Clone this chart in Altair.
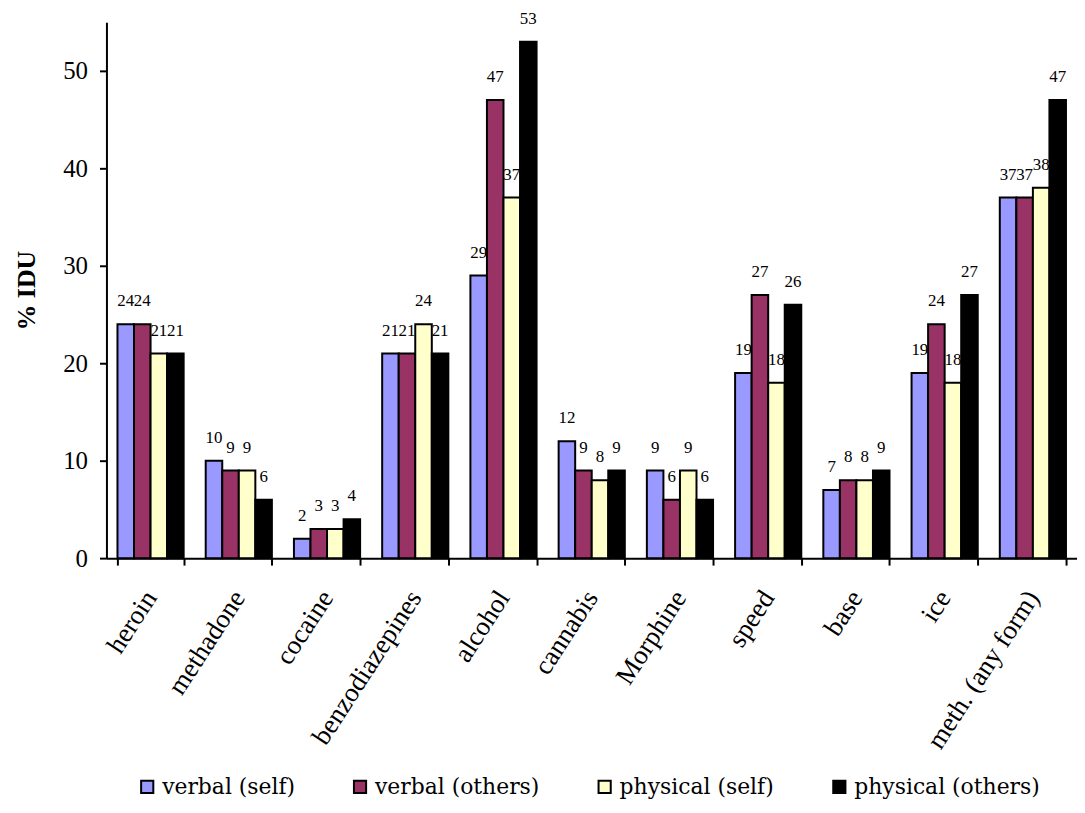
import altair as alt
import pandas as pd

categories = ["heroin", "methadone", "cocaine", "benzodiazepines", "alcohol",
              "cannabis", "Morphine", "speed", "base", "ice", "meth. (any form)"]
series = ["verbal (self)", "verbal (others)", "physical (self)", "physical (others)"]
verbal_self = [24, 10, 2, 21, 29, 12, 9, 19, 7, 19, 37]
verbal_others = [24, 9, 3, 21, 47, 9, 6, 27, 8, 24, 37]
physical_self = [21, 9, 3, 24, 37, 8, 9, 18, 8, 18, 38]
physical_others = [21, 6, 4, 21, 53, 9, 6, 26, 9, 27, 47]
colors = ["#9999FF", "#993366", "#FFFFCC", "#000000"]
y_ticks = [0, 10, 20, 30, 40, 50]

rows = []
for s, vals in zip(series, [verbal_self, verbal_others, physical_self, physical_others]):
    for c, v in zip(categories, vals):
        rows.append({"drug": c, "group": s, "pct": v})
df = pd.DataFrame(rows)

FONT = "Liberation Serif"

x_enc = alt.X(
    "drug:N", sort=categories,
    scale=alt.Scale(domain=categories, paddingInner=0.25, paddingOuter=0.125),
    axis=alt.Axis(title=None, labelAngle=-57, labelAlign="right", labelBaseline="middle",
                  labelFontSize=27, labelPadding=28, tickBand="extent", tickSize=7,
                  labelFont=FONT, labelColor="black", labelLimit=400),
)
xo_enc = alt.XOffset("group:N", scale=alt.Scale(domain=series))
y_enc = alt.Y(
    "pct:Q",
    scale=alt.Scale(domain=[0, 55], nice=False),
    axis=alt.Axis(title="% IDU", values=y_ticks, grid=False, labelFontSize=25,
                  labelPadding=12, tickSize=7, titleFontSize=26, titleFontWeight="bold",
                  titleX=-80, titleBaseline="middle", labelFont=FONT, titleFont=FONT,
                  labelColor="black", titleColor="black"),
)
legend = alt.Legend(title=None, orient="none", legendX=30, legendY=758,
                    direction="horizontal", columns=4, symbolType="square",
                    symbolSize=150, symbolStrokeColor="black", symbolStrokeWidth=2,
                    symbolOpacity=1, labelFontSize=22, labelFont="DejaVu Serif",
                    labelColor="black",
                    labelLimit=400, columnPadding=54, labelOffset=4, padding=0)
color_scale = alt.Scale(domain=series, range=colors)

base = alt.Chart(df)
layers = []
for i, s in enumerate(series):
    sub = base.transform_filter(alt.datum.group == s)
    layers.append(
        sub.mark_bar(stroke="black", strokeWidth=2).encode(
            x=x_enc, xOffset=xo_enc, y=y_enc,
            color=alt.Color("group:N", scale=color_scale,
                            legend=legend if i == 0 else None))
    )
    layers.append(
        sub.mark_text(dy=-18, baseline="alphabetic", align="center", fontSize=17,
                      font=FONT, color="black").encode(
            x=x_enc, xOffset=xo_enc, y=y_enc, text="pct:Q")
    )

chart = alt.layer(*layers).properties(
    width=976, height=539,
    autosize=alt.AutoSizeParams(type="none"),
    padding={"left": 99, "top": 12, "right": 0, "bottom": 242},
).configure(
    font=FONT,
    style={"guide-title": {"font": FONT}},
).configure_view(stroke=None).configure_axis(
    domainColor="black", tickColor="black", domainWidth=2, tickWidth=2
)

chart.save("out.html", embed_options={"renderer": "svg", "actions": False})
